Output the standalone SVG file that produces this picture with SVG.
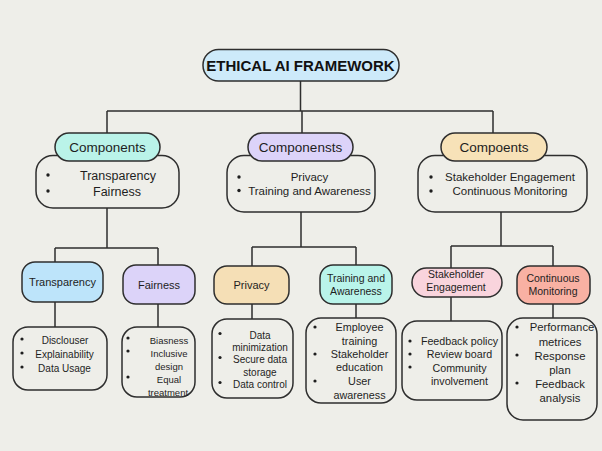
<svg xmlns="http://www.w3.org/2000/svg" width="602" height="451" viewBox="0 0 602 451">
  <style>
    .bg { fill: #eeeee9; }
    .box { stroke: #2e2e2e; stroke-width: 1.5; }
    .plain { fill: #eeeee9; }
    .line { stroke: #2e2e2e; stroke-width: 1.5; fill: none; }
    text { font-family: "Liberation Sans", Arial, sans-serif; fill: #1e1e1e; text-anchor: middle; }
    .title { font-weight: bold; font-size: 15px; fill: #111; }
    .lbl { font-size: 13.5px; }
    .mid { font-size: 11px; }
    .mid2 { font-size: 10.5px; }
    .bul { font-size: 10px; }
  </style>
  <rect class="bg" x="0" y="0" width="602" height="451"/>

  <!-- connectors -->
  <g id="connectors" class="line">
    <path d="M300.5 81 V111 M107 111 H493 M107 111 V133 M302 111 V133 M493 111 V133"/>
    <path d="M107 208 V248 M55 248 H158 M55 248 V262 M158 248 V265"/>
    <path d="M301 212 V247 M252 247 H356 M252 247 V266 M356 247 V265"/>
    <path d="M501 212 V246 M451 246 H553 M451 246 V268 M553 246 V266"/>
    <path d="M55 302 V327 M158 304 V327 M252 304 V319 M356 304 V318 M451 297 V321 M553 304 V318"/>
  </g>

  <!-- root -->
  <g id="root">
    <rect class="box" x="203" y="49.5" width="196" height="31.5" rx="15.5" fill="#cdeafa"/>
    <text class="title" x="300.5" y="70.5">ETHICAL AI FRAMEWORK</text>
  </g>

  <!-- first branch -->
  <g id="components-1">
    <rect class="box plain" x="36" y="155.5" width="143" height="52.5" rx="17"/>
    <rect class="box" x="55" y="133" width="105" height="28" rx="14" fill="#baf3e9"/>
    <text class="lbl" x="107.5" y="152">Components</text>
    <circle cx="48" cy="175" r="1.7" fill="#1e1e1e"/>
    <circle cx="48" cy="191" r="1.7" fill="#1e1e1e"/>
    <text x="118" y="179.5" font-size="12.5">Transparency</text>
    <text x="117" y="195.5" font-size="12.5">Fairness</text>
  </g>

  <g id="components-2">
    <rect class="box plain" x="227" y="155.5" width="148" height="56.5" rx="17"/>
    <rect class="box" x="248" y="133" width="105" height="28" rx="14" fill="#dcd3f9"/>
    <text class="lbl" x="300.5" y="152">Componensts</text>
    <circle cx="239" cy="177" r="1.7" fill="#1e1e1e"/>
    <circle cx="239" cy="190.5" r="1.7" fill="#1e1e1e"/>
    <text x="309.5" y="181" font-size="11.5">Privacy</text>
    <text x="309.5" y="195" font-size="11.5">Training and Awareness</text>
  </g>

  <g id="components-3">
    <rect class="box plain" x="418" y="155.5" width="169" height="56.5" rx="17"/>
    <rect class="box" x="441" y="133" width="106" height="28" rx="14" fill="#f7e2b8"/>
    <text class="lbl" x="494" y="152">Compoents</text>
    <circle cx="431" cy="177" r="1.7" fill="#1e1e1e"/>
    <circle cx="431" cy="191" r="1.7" fill="#1e1e1e"/>
    <text x="510" y="181" font-size="11.5">Stakeholder Engagement</text>
    <text x="510" y="195" font-size="11.5">Continuous Monitoring</text>
  </g>

  <!-- second level -->
  <g id="transparency">
    <rect class="box" x="22" y="262" width="81" height="40" rx="13" fill="#bde4fa"/>
    <text class="mid" x="62.5" y="286">Transparency</text>
  </g>
  <g id="fairness">
    <rect class="box" x="123" y="265" width="72" height="39" rx="13" fill="#dcd3f9"/>
    <text class="mid" x="159" y="288.5">Fairness</text>
  </g>
  <g id="privacy">
    <rect class="box" x="214" y="266" width="75" height="38" rx="13" fill="#f5dfb6"/>
    <text class="mid" x="251.5" y="289">Privacy</text>
  </g>
  <g id="training">
    <rect class="box" x="320" y="265" width="72" height="39" rx="13" fill="#b9f4ea"/>
    <text class="mid2" x="356" y="281.5">Training and</text>
    <text class="mid2" x="356" y="295">Awareness</text>
  </g>
  <g id="stakeholder">
    <rect class="box" x="412" y="268" width="90" height="29" rx="14.5" fill="#f9d4dd"/>
    <text class="mid2" x="456" y="278">Stakeholder</text>
    <text class="mid2" x="456" y="291">Engagement</text>
  </g>
  <g id="monitoring">
    <rect class="box" x="517" y="266" width="73" height="38" rx="13" fill="#f9b1a3"/>
    <text class="mid2" x="553" y="281.5">Continuous</text>
    <text class="mid2" x="553" y="295">Monitoring</text>
  </g>

  <!-- detail boxes -->
  <g id="transparency-items">
    <rect class="box plain" x="13" y="327" width="94" height="63" rx="15"/>
    <circle cx="22" cy="339" r="1.6" fill="#1e1e1e"/>
    <circle cx="22" cy="353" r="1.6" fill="#1e1e1e"/>
    <circle cx="22" cy="367" r="1.6" fill="#1e1e1e"/>
    <text class="bul" x="65" y="343.5">Disclouser</text>
    <text class="bul" x="64.5" y="357.5">Explainability</text>
    <text class="bul" x="64.5" y="371.5">Data Usage</text>
  </g>

  <g id="fairness-items">
    <rect class="box plain" x="122" y="327" width="73" height="70" rx="15"/>
    <circle cx="128" cy="338" r="1.6" fill="#1e1e1e"/>
    <circle cx="128" cy="351" r="1.6" fill="#1e1e1e"/>
    <circle cx="128" cy="377" r="1.6" fill="#1e1e1e"/>
    <text x="169" y="343.5" font-size="9.5">Biasness</text>
    <text x="169" y="356.5" font-size="9.5">Inclusive</text>
    <text x="169" y="370" font-size="9.5">design</text>
    <text x="169" y="382.5" font-size="9.5">Equal</text>
    <text x="168" y="395.5" font-size="9.5">treatment</text>
  </g>

  <g id="privacy-items">
    <rect class="box plain" x="212" y="319" width="81" height="79" rx="15"/>
    <circle cx="220" cy="333.5" r="1.6" fill="#1e1e1e"/>
    <circle cx="220" cy="357.5" r="1.6" fill="#1e1e1e"/>
    <circle cx="220" cy="382.5" r="1.6" fill="#1e1e1e"/>
    <text class="bul" x="260" y="338.5">Data</text>
    <text class="bul" x="260" y="350.5">minimization</text>
    <text class="bul" x="260" y="362.5">Secure data</text>
    <text class="bul" x="260" y="375.5">storage</text>
    <text class="bul" x="260" y="387.5">Data control</text>
  </g>

  <g id="training-items">
    <rect class="box plain" x="306" y="318" width="90" height="85" rx="15"/>
    <circle cx="315" cy="327" r="1.6" fill="#1e1e1e"/>
    <circle cx="315" cy="354" r="1.6" fill="#1e1e1e"/>
    <circle cx="315" cy="381" r="1.6" fill="#1e1e1e"/>
    <text x="359.5" y="331" font-size="10.8">Employee</text>
    <text x="359.5" y="344.5" font-size="10.8">training</text>
    <text x="359.5" y="358" font-size="10.8">Stakeholder</text>
    <text x="359.5" y="371" font-size="10.8">education</text>
    <text x="359.5" y="384.5" font-size="10.8">User</text>
    <text x="359.5" y="398.5" font-size="10.8">awareness</text>
  </g>

  <g id="stakeholder-items">
    <rect class="box plain" x="402" y="321" width="100" height="79" rx="15"/>
    <circle cx="410" cy="341" r="1.6" fill="#1e1e1e"/>
    <circle cx="410" cy="354" r="1.6" fill="#1e1e1e"/>
    <circle cx="410" cy="367" r="1.6" fill="#1e1e1e"/>
    <text x="459.5" y="345" font-size="10.7">Feedback policy</text>
    <text x="459.5" y="358" font-size="10.7">Review board</text>
    <text x="459.5" y="371.5" font-size="10.7">Community</text>
    <text x="459.5" y="385" font-size="10.7">involvement</text>
  </g>

  <g id="monitoring-items">
    <rect class="box plain" x="507" y="318" width="90" height="102" rx="16"/>
    <circle cx="517" cy="327" r="1.6" fill="#1e1e1e"/>
    <circle cx="517" cy="355" r="1.6" fill="#1e1e1e"/>
    <circle cx="517" cy="383" r="1.6" fill="#1e1e1e"/>
    <text x="562" y="331" font-size="11.3">Performance</text>
    <text x="560" y="346" font-size="11.3">metrices</text>
    <text x="560" y="360" font-size="11.3">Response</text>
    <text x="560" y="374" font-size="11.3">plan</text>
    <text x="560" y="387.5" font-size="11.3">Feedback</text>
    <text x="560" y="402" font-size="11.3">analysis</text>
  </g>
</svg>
